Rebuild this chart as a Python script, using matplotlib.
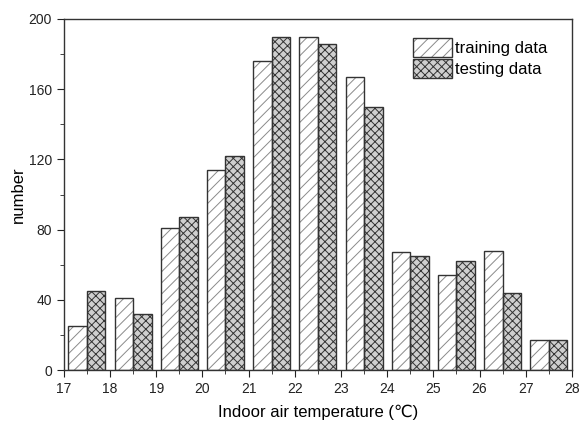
import numpy as np
import matplotlib
matplotlib.use("Agg")
import matplotlib.pyplot as plt
from matplotlib.patches import Patch
from matplotlib.ticker import MultipleLocator

plt.rcParams['font.family'] = ['Liberation Sans', 'DejaVu Sans']
plt.rcParams['hatch.linewidth'] = 0.7

# Temperature bins (lower edge, degC) and counts
bins = [17, 18, 19, 20, 21, 22, 23, 24, 25, 26, 27]
training = [25, 41, 81, 114, 176, 190, 167, 67, 54, 68, 17]
testing = [45, 32, 87, 122, 190, 186, 150, 65, 62, 44, 17]

fig = plt.figure(figsize=(5.8, 4.21), dpi=100)
ax = fig.add_axes([0.110, 0.121, 0.876, 0.834])

x = np.array(bins) + 0.5
w = 0.4

# hatch layers (grey), then dark outlines on top
ax.bar(x - w / 2, training, w, color='white', edgecolor='#8a8a8a', hatch='///', linewidth=0)
ax.bar(x + w / 2, testing, w, color='#cfcfcf', edgecolor='#333333', hatch='xxxx', linewidth=0)
ax.bar(x - w / 2, training, w, fill=False, edgecolor='#333333', linewidth=1.0)
ax.bar(x + w / 2, testing, w, fill=False, edgecolor='#333333', linewidth=1.0)

ax.set_xlim(17, 28)
ax.set_ylim(0, 200)
ax.xaxis.set_major_locator(MultipleLocator(1))
ax.xaxis.set_minor_locator(MultipleLocator(0.5))
ax.yaxis.set_major_locator(MultipleLocator(40))
ax.yaxis.set_minor_locator(MultipleLocator(20))
ax.tick_params(which='both', direction='out', labelsize=10, colors='#222222')
ax.tick_params(which='major', length=5)
ax.tick_params(which='minor', length=3)
for s in ax.spines.values():
    s.set_color('#333333')
    s.set_linewidth(1.0)

ax.set_xlabel('Indoor air temperature (\u2103)', fontsize=12, labelpad=6)
ax.set_ylabel('number', fontsize=12, labelpad=2)

# legend handles: hatch patch + outline patch overlaid
h_train = (Patch(facecolor='white', edgecolor='#8a8a8a', hatch='///', linewidth=0),
           Patch(fill=False, edgecolor='#333333', linewidth=1.0))
h_test = (Patch(facecolor='#cfcfcf', edgecolor='#333333', hatch='xxxx', linewidth=0),
          Patch(fill=False, edgecolor='#333333', linewidth=1.0))
ax.legend([h_train, h_test], ['training data', 'testing data'],
          loc='upper right', bbox_to_anchor=(0.975, 0.98), frameon=False,
          fontsize=12, handlelength=2.3, handleheight=1.4,
          labelspacing=0.1, handletextpad=0.2, borderpad=0.2)

fig.savefig('out.png', dpi=100)
